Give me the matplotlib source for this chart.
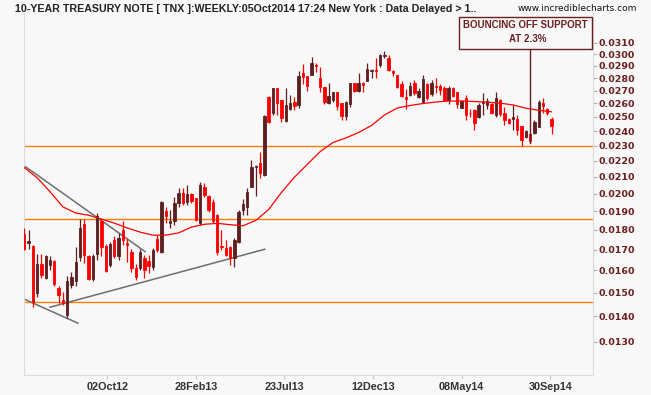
import matplotlib
matplotlib.use("Agg")
import matplotlib.pyplot as plt
from matplotlib.patches import Rectangle
import numpy as np

# weekly candles of the 10-year yield (TNX / 1000), May 2012 .. Oct 2014
opens = [0.01780, 0.01731, 0.01719, 0.01499, 0.01631, 0.01564, 0.01624, 0.01646, 0.01521, 0.01469,
         0.01404, 0.01535, 0.01553, 0.01665, 0.01832, 0.01670, 0.01562, 0.01679, 0.01845, 0.01719,
         0.01624, 0.01749, 0.01667, 0.01800, 0.01734, 0.01690, 0.01610, 0.01612, 0.01660, 0.01646,
         0.01617, 0.01754, 0.01690, 0.01902, 0.01836, 0.01845, 0.01949, 0.02003, 0.01952, 0.01999,
         0.01974, 0.01836, 0.02042, 0.01988, 0.01953, 0.01881, 0.01716, 0.01709, 0.01714, 0.01659,
         0.01736, 0.01908, 0.01927, 0.02042, 0.02163, 0.02186, 0.02113, 0.02652, 0.02527, 0.02720,
         0.02627, 0.02471, 0.02559, 0.02614, 0.02589, 0.02841, 0.02817, 0.02824, 0.02908, 0.02802,
         0.02730, 0.02602, 0.02627, 0.02690, 0.02604, 0.02507, 0.02594, 0.02758, 0.02698, 0.02758,
         0.02778, 0.02854, 0.02865, 0.02908, 0.02981, 0.02966, 0.02857, 0.02824, 0.02752, 0.02650,
         0.02665, 0.02758, 0.02652, 0.02614, 0.02749, 0.02670, 0.02736, 0.02736, 0.02722, 0.02627,
         0.02722, 0.02686, 0.02568, 0.02645, 0.02532, 0.02548, 0.02502, 0.02602, 0.02589, 0.02594,
         0.02515, 0.02627, 0.02527, 0.02484, 0.02484, 0.02484, 0.02438, 0.02357, 0.02380, 0.02384,
         0.02431, 0.02602, 0.02557, 0.02486]
highs = [0.01811, 0.01800, 0.01724, 0.01679, 0.01679, 0.01675, 0.01667, 0.01650, 0.01530, 0.01503,
         0.01575, 0.01593, 0.01714, 0.01859, 0.01859, 0.01675, 0.01679, 0.01893, 0.01859, 0.01729,
         0.01739, 0.01769, 0.01785, 0.01848, 0.01759, 0.01704, 0.01631, 0.01704, 0.01675, 0.01675,
         0.01709, 0.01774, 0.01961, 0.01927, 0.01908, 0.01984, 0.02033, 0.02035, 0.02052, 0.02005,
         0.01976, 0.02072, 0.02063, 0.01993, 0.01970, 0.01886, 0.01800, 0.01749, 0.01719, 0.01759,
         0.01908, 0.01970, 0.02035, 0.02206, 0.02175, 0.02261, 0.02515, 0.02658, 0.02722, 0.02722,
         0.02627, 0.02720, 0.02665, 0.02650, 0.02857, 0.02916, 0.02817, 0.02979, 0.02922, 0.02893,
         0.02730, 0.02758, 0.02688, 0.02690, 0.02606, 0.02619, 0.02760, 0.02758, 0.02839, 0.02770,
         0.02922, 0.02873, 0.02966, 0.03000, 0.03032, 0.02994, 0.02865, 0.02824, 0.02778, 0.02709,
         0.02770, 0.02784, 0.02720, 0.02824, 0.02760, 0.02784, 0.02798, 0.02752, 0.02736, 0.02736,
         0.02728, 0.02688, 0.02627, 0.02665, 0.02559, 0.02561, 0.02604, 0.02678, 0.02640, 0.02604,
         0.02690, 0.02635, 0.02576, 0.02493, 0.02589, 0.02515, 0.02438, 0.02407, 0.02386, 0.02479,
         0.02627, 0.02640, 0.02568, 0.02502]
lows = [0.01699, 0.01704, 0.01440, 0.01482, 0.01566, 0.01562, 0.01602, 0.01530, 0.01457, 0.01448,
        0.01394, 0.01521, 0.01530, 0.01643, 0.01636, 0.01557, 0.01553, 0.01650, 0.01670, 0.01593,
        0.01617, 0.01660, 0.01650, 0.01724, 0.01641, 0.01593, 0.01557, 0.01602, 0.01566, 0.01589,
        0.01602, 0.01689, 0.01683, 0.01836, 0.01809, 0.01827, 0.01927, 0.01936, 0.01936, 0.01948,
        0.01845, 0.01827, 0.01984, 0.01897, 0.01838, 0.01675, 0.01699, 0.01670, 0.01626, 0.01617,
        0.01733, 0.01881, 0.01881, 0.02040, 0.01987, 0.02092, 0.02106, 0.02457, 0.02515, 0.02515,
        0.02466, 0.02464, 0.02552, 0.02552, 0.02567, 0.02752, 0.02696, 0.02824, 0.02849, 0.02692,
        0.02596, 0.02596, 0.02611, 0.02552, 0.02479, 0.02479, 0.02576, 0.02690, 0.02690, 0.02686,
        0.02776, 0.02798, 0.02798, 0.02893, 0.02971, 0.02854, 0.02817, 0.02718, 0.02652, 0.02561,
        0.02658, 0.02665, 0.02642, 0.02611, 0.02627, 0.02658, 0.02678, 0.02665, 0.02619, 0.02596,
        0.02650, 0.02567, 0.02567, 0.02479, 0.02502, 0.02407, 0.02493, 0.02515, 0.02561, 0.02522,
        0.02502, 0.02507, 0.02443, 0.02450, 0.02407, 0.02373, 0.02300, 0.02352, 0.02320, 0.02380,
        0.02429, 0.02527, 0.02515, 0.02380]
closes = [0.01704, 0.01741, 0.01461, 0.01631, 0.01580, 0.01670, 0.01650, 0.01539, 0.01490, 0.01457,
          0.01550, 0.01571, 0.01641, 0.01808, 0.01675, 0.01562, 0.01670, 0.01872, 0.01715, 0.01598,
          0.01729, 0.01670, 0.01757, 0.01749, 0.01724, 0.01614, 0.01571, 0.01689, 0.01602, 0.01619,
          0.01699, 0.01699, 0.01955, 0.01872, 0.01845, 0.01946, 0.02007, 0.01946, 0.01999, 0.01961,
          0.01854, 0.02052, 0.01993, 0.01908, 0.01845, 0.01690, 0.01714, 0.01675, 0.01660, 0.01749,
          0.01898, 0.01942, 0.02012, 0.02164, 0.02169, 0.02123, 0.02510, 0.02466, 0.02718, 0.02602,
          0.02491, 0.02589, 0.02602, 0.02582, 0.02817, 0.02809, 0.02736, 0.02924, 0.02899, 0.02730,
          0.02614, 0.02658, 0.02685, 0.02584, 0.02507, 0.02614, 0.02758, 0.02696, 0.02758, 0.02744,
          0.02873, 0.02865, 0.02854, 0.02994, 0.02990, 0.02868, 0.02841, 0.02730, 0.02658, 0.02635,
          0.02736, 0.02678, 0.02698, 0.02792, 0.02645, 0.02758, 0.02726, 0.02704, 0.02627, 0.02722,
          0.02660, 0.02594, 0.02619, 0.02515, 0.02527, 0.02455, 0.02589, 0.02609, 0.02622, 0.02527,
          0.02645, 0.02522, 0.02479, 0.02455, 0.02502, 0.02407, 0.02339, 0.02402, 0.02334, 0.02466,
          0.02609, 0.02584, 0.02532, 0.02438]

# red moving average, read every third week
ma_values = [0.02158, 0.02095, 0.02012, 0.01925, 0.01891, 0.01879, 0.01858, 0.01836, 0.01811, 0.01789,
             0.01773, 0.01773, 0.01785, 0.01815, 0.01830, 0.01835, 0.01828, 0.01822, 0.01851, 0.01910,
             0.02008, 0.02098, 0.02178, 0.02260, 0.02321, 0.02352, 0.02390, 0.02439, 0.02514, 0.02566,
             0.02585, 0.02600, 0.02611, 0.02619, 0.02619, 0.02615, 0.02610, 0.02603, 0.02589, 0.02565,
             0.02549, 0.02538]

x_labels = ["02Oct12", "28Feb13", "23Jul13", "12Dec13", "08May14", "30Sep14"]
x_tick_pos = [19.4, 40.1, 60.7, 81.4, 102.0, 122.7]
y_ticks = [0.0130, 0.0140, 0.0150, 0.0160, 0.0170, 0.0180, 0.0190, 0.0200, 0.0210, 0.0220,
           0.0230, 0.0240, 0.0250, 0.0260, 0.0270, 0.0280, 0.0290, 0.0300, 0.0310]

# drawn support / resistance
levels = [0.0230, 0.01858, 0.0146]
trend_lines = [((0, 0.02169), (28.2, 0.0169)),
               ((0, 0.01472), (12.5, 0.01373)),
               ((6.0, 0.01438), (56.1, 0.01702))]
note_week = 118
note_value = 0.02318

BG = "#f8f8f8"
UP = "#5c1f1f"
DOWN = "#ff0000"
MAROON = "#6b1f1f"

fig = plt.figure(figsize=(6.51, 3.95), dpi=100, facecolor=BG)
ax = fig.add_axes([24 / 651, 20 / 395, 568.7 / 651, 362 / 395], facecolor=BG)
ax.set_yscale("log")

o = np.array(opens)
c = np.array(closes)
x = np.arange(len(o))
cols = np.where(c >= o, UP, DOWN)

for v in levels:
    ax.axhline(v, color="#ff8000", lw=1.0, zorder=1)
for (x0, y0), (x1, y1) in trend_lines:
    ax.plot([x0, x1], [y0, y1], color="#6e6e6e", lw=1.1, zorder=2)

ax.vlines(x, lows, highs, colors=cols, lw=0.9, zorder=3)
ax.bar(x, np.abs(c - o), bottom=np.minimum(o, c), width=0.55, color=cols,
       edgecolor=cols, linewidth=0.6, zorder=4)
ax.plot(x[::3], ma_values, color="#ff0000", lw=0.9, zorder=5)

ax.set_xlim(-0.07, 132.6)
ax.set_ylim(0.011808, 0.033825)

ax.yaxis.tick_right()
ax.set_yticks(y_ticks)
ax.set_yticklabels([f"{v:.4f}" for v in y_ticks])
ax.minorticks_off()
ax.set_xticks(x_tick_pos)
ax.set_xticklabels(x_labels)
ax.tick_params(axis="y", length=3, width=0.8, color="#b0b0b0", pad=1.5,
               labelsize=6.8, labelcolor=MAROON)
ax.tick_params(axis="x", length=3, width=0.8, color="#c8c8c8", pad=2,
               labelsize=7.8, labelcolor="#333333")
for lab in ax.get_yticklabels():
    lab.set_fontfamily("DejaVu Sans")
    lab.set_fontweight("bold")
for lab in ax.get_xticklabels():
    lab.set_fontfamily("Liberation Sans")
    lab.set_fontweight("bold")

for side in ["left", "bottom", "right"]:
    ax.spines[side].set_color("#dcdcdc")
    ax.spines[side].set_linewidth(0.8)
ax.spines["top"].set_visible(False)

fig.text(15 / 651, 1 - 9.5 / 395,
         "10-YEAR TREASURY NOTE [ TNX ]:WEEKLY:05Oct2014 17:24 New York : Data Delayed > 1..",
         fontsize=7.65, fontweight="bold", family="Liberation Sans", color="#222222", va="center")
fig.text(518 / 651, 1 - 8.5 / 395, "www.incrediblecharts.com", fontsize=6.5,
         family="DejaVu Sans", color="#111111", va="center")

# annotation box and its pointer
box_top, box_bot = 16.7, 49.3
fig.patches.append(Rectangle((459 / 651, 1 - box_bot / 395), 133 / 651, (box_bot - box_top) / 395,
                             transform=fig.transFigure, fill=True, fc=BG, ec=MAROON, lw=1.0))
fig.text(525.5 / 651, 1 - 25 / 395, "BOUNCING OFF SUPPORT", ha="center", va="center",
         fontsize=7.05, fontweight="bold", family="Liberation Sans", color=MAROON)
fig.text(528 / 651, 1 - 39.5 / 395, "AT 2.3%", ha="center", va="center",
         fontsize=7.05, fontweight="bold", family="Liberation Sans", color=MAROON)
ax.plot([note_week, note_week], [note_value, 0.03044], color=MAROON, lw=1.0, zorder=6)

fig.savefig("out.png", dpi=100, facecolor=BG)
